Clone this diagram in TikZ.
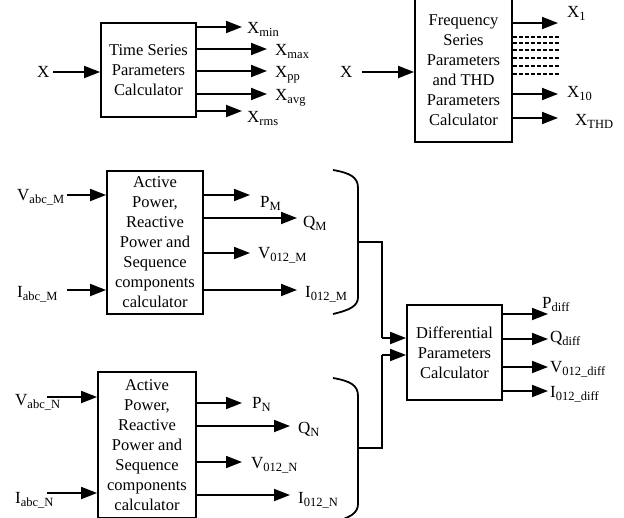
\documentclass[tikz,border=0pt]{standalone}
\usepackage{fontspec}
\setmainfont{Liberation Serif}
\usetikzlibrary{arrows.meta}
% symbol with a lowered, smaller subscript
\newcommand\lbl[2]{#1\raisebox{-3.5pt}{\fontsize{12.5}{12.5}\selectfont #2}}
\begin{document}
\begin{tikzpicture}[x=1pt,y=-1pt,
  blk/.style={draw,line width=1.8pt,inner sep=0pt,align=center,font=\fontsize{16.5}{20}\selectfont},
  arr/.style={line width=1.8pt,-{Triangle[length=16pt,width=12pt]}},
  wire/.style={line width=1.8pt},
  dots/.style={line width=1.6pt,dash pattern=on 4pt off 2pt},
  lab/.style={anchor=base west,inner sep=0pt,font=\fontsize{17}{19}\selectfont},
]
\useasboundingbox (0,0) rectangle (624,517);
\clip (0,0) rectangle (624,517);

% ---------------- time series block ----------------
\node[blk,minimum width=95pt,minimum height=94pt] (ts) at (148.5,70) {Time Series\\Parameters\\Calculator};
\node[lab] (tsx) at (37,77) {X};
\coordinate (tsin) at (53,72);
\draw[arr] (tsin) -- (ts.west |- tsin);
\node[lab] (xmin) at (247,33) {\lbl{X}{min}};
\node[lab] (xmax) at (275,55) {\lbl{X}{max}};
\node[lab] (xpp)  at (275,77) {\lbl{X}{pp}};
\node[lab] (xavg) at (275,100) {\lbl{X}{avg}};
\node[lab] (xrms) at (247,122) {\lbl{X}{rms}};
\coordinate (tmin) at (242,27);
\coordinate (tmax) at (267,49);
\coordinate (tpp)  at (267,71);
\coordinate (tavg) at (267,94);
\coordinate (trms) at (242,111);
\foreach \t in {tmin,tmax,tpp,tavg,trms}
  \draw[arr] (ts.east |- \t) -- (\t);

% ---------------- frequency block ----------------
\node[blk,minimum width=97pt,minimum height=144pt] (fs) at (463.5,70) {Frequency\\Series\\Parameters\\and THD\\Parameters\\Calculator};
\node[lab] (fsx) at (340,77) {X};
\coordinate (fsin) at (362,72);
\draw[arr] (fsin) -- (fs.west |- fsin);
\node[lab] (x1)   at (567,17) {\lbl{X}{1}};
\node[lab] (x10)  at (567,97) {\lbl{X}{10}};
\node[lab] (xthd) at (575,125) {\lbl{X}{THD}};
\coordinate (f1)   at (558,23);
\coordinate (f10)  at (558,94);
\coordinate (fthd) at (558,118);
\foreach \t in {f1,f10,fthd}
  \draw[arr] (fs.east |- \t) -- (\t);
\foreach \yy [count=\i] in {37,43,50,58,66,74}{
  \coordinate (fd\i) at (560,\yy);
  \draw[dots] (fs.east |- fd\i) -- (fd\i);
}

% ---------------- power block M ----------------
\node[blk,minimum width=96pt,minimum height=143pt] (pm) at (155,242.5) {Active\\Power,\\Reactive\\Power and\\Sequence\\components\\calculator};
\node[lab] (vabcm) at (17,200) {\lbl{V}{abc\_M}};
\node[lab] (iabcm) at (17,297) {\lbl{I}{abc\_M}};
\coordinate (vmin) at (67,195);
\coordinate (imin) at (67,290);
\draw[arr] (vmin) -- (pm.west |- vmin);
\draw[arr] (imin) -- (pm.west |- imin);
\node[lab] (pM) at (260,207) {\lbl{P}{M}};
\node[lab] (qM) at (303,227) {\lbl{Q}{M}};
\node[lab] (vM) at (258,258) {\lbl{V}{012\_M}};
\node[lab] (iM) at (305,297) {\lbl{I}{012\_M}};
\coordinate (mp) at (250,195);
\coordinate (mq) at (297,218);
\coordinate (mv) at (250,253);
\coordinate (mi) at (297,290);
\foreach \t in {mp,mq,mv,mi}
  \draw[arr] (pm.east |- \t) -- (\t);
% bracket gathering the M outputs
\coordinate (bm) at (358,242);
\draw[wire] (333,170) .. controls (350,173) and (358,177) .. (358,188) -- (358,297)
  .. controls (358,306) and (350,310) .. (333,314);

% ---------------- power block N ----------------
\node[blk,minimum width=98pt,minimum height=146pt] (pn) at (147,445) {Active\\Power,\\Reactive\\Power and\\Sequence\\components\\calculator};
\node[lab] (vabcn) at (15,405) {\lbl{V}{abc\_N}};
\node[lab] (iabcn) at (15,503) {\lbl{I}{abc\_N}};
\coordinate (vnin) at (47,397);
\coordinate (inin) at (47,493);
\draw[arr] (vnin) -- (pn.west |- vnin);
\draw[arr] (inin) -- (pn.west |- inin);
\node[lab] (pN) at (252,408) {\lbl{P}{N}};
\node[lab] (qN) at (298,433) {\lbl{Q}{N}};
\node[lab] (vN) at (251,468) {\lbl{V}{012\_N}};
\node[lab] (iN) at (298,503) {\lbl{I}{012\_N}};
\coordinate (np) at (242,403);
\coordinate (nq) at (290,426);
\coordinate (nv) at (242,462);
\coordinate (ni) at (290,495);
\foreach \t in {np,nq,nv,ni}
  \draw[arr] (pn.east |- \t) -- (\t);
% bracket gathering the N outputs
\coordinate (bn) at (358,448);
\draw[wire] (333,378) .. controls (350,381) and (358,385) .. (358,396) -- (358,504)
  .. controls (358,513) and (350,518) .. (333,522);

% ---------------- differential block ----------------
\node[blk,minimum width=95pt,minimum height=95pt] (df) at (454.5,352.5) {Differential\\Parameters\\Calculator};
\coordinate (jm) at (382,338);
\coordinate (jn) at (382,355);
\draw[wire] (bm) -- (jm |- bm) -- (jm);
\draw[arr] (jm) -- (df.west |- jm);
\draw[wire] (bn) -- (jn |- bn) -- (jn);
\draw[arr] (jn) -- (df.west |- jn);
\node[lab] (pd) at (542,308) {\lbl{P}{diff}};
\node[lab] (qd) at (550,342) {\lbl{Q}{diff}};
\node[lab] (vd) at (550,372) {\lbl{V}{012\_diff}};
\node[lab] (id) at (550,397) {\lbl{I}{012\_diff}};
\coordinate (dp) at (548,314);
\coordinate (dq) at (548,339);
\coordinate (dv) at (548,367);
\coordinate (di) at (548,391);
\foreach \t in {dp,dq,dv,di}
  \draw[arr] (df.east |- \t) -- (\t);
\end{tikzpicture}
\end{document}
